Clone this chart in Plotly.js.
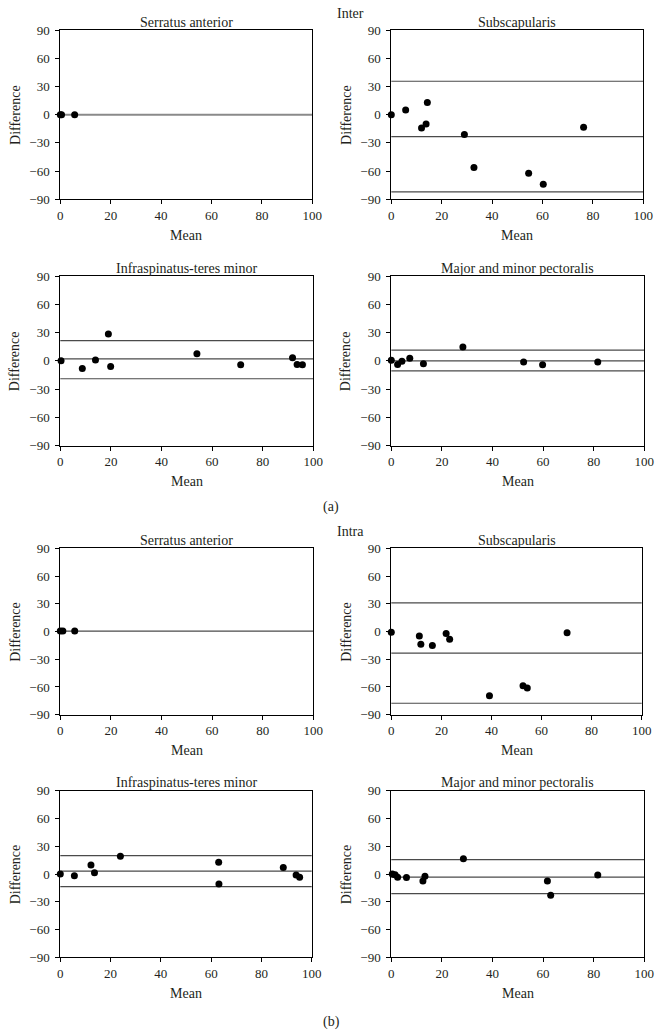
<!DOCTYPE html>
<html><head><meta charset="utf-8">
<script src="https://cdn.plot.ly/plotly-3.0.1.min.js"></script>
<style>html,body{margin:0;padding:0;background:#fff}#chart{width:662px;height:1034px}</style>
</head><body><div id="chart"></div>
<script>
// ---------- tick labels ----------
const xTickVals = [0, 20, 40, 60, 80, 100];
const yTickVals = [-90, -60, -30, 0, 30, 60, 90];

// ---------- (a) Inter ----------
const interSerratusMean = [0, 0.5, 5.7];
const interSerratusDiff = [0, 0, 0];
const interSerratusLines = [0];

const interSubscapMean = [0, 5.7, 14.3, 12.0, 13.8, 29.0, 32.8, 54.5, 60.3, 76.3];
const interSubscapDiff = [0, 5.0, 12.8, -14.2, -10.0, -21.0, -56.2, -62.2, -74.0, -13.4];
const interSubscapLines = [35.5, -23.4, -82.2];

const interInfraMean = [0.3, 8.7, 13.9, 19.0, 19.9, 54.0, 71.3, 91.8, 93.6, 95.7];
const interInfraDiff = [0, -8.0, 1.0, 28.5, -6.0, 7.5, -4.2, 3.2, -4.0, -4.2];
const interInfraLines = [21.5, 2.0, -19.0];

const interPectMean = [0, 2.5, 4.2, 7.3, 12.7, 28.3, 52.3, 59.8, 81.6];
const interPectDiff = [0.7, -3.9, -0.5, 2.8, -3.2, 14.8, -1.1, -4.2, -1.1];
const interPectLines = [11.3, 0, -10.6];

// ---------- (b) Intra ----------
const intraSerratusMean = [0, 1.0, 5.7];
const intraSerratusDiff = [0.5, 0.5, 0.5];
const intraSerratusLines = [0.5];

const intraSubscapMean = [0, 11.2, 11.8, 16.4, 21.9, 23.3, 39.2, 52.6, 54.3, 70.2];
const intraSubscapDiff = [-0.7, -5.0, -13.7, -15.1, -2.2, -8.3, -69.4, -58.6, -61.0, -1.4];
const intraSubscapLines = [31.0, -23.5, -77.6];

const intraInfraMean = [0, 5.6, 12.2, 13.6, 23.9, 63.0, 63.1, 88.7, 93.8, 95.2];
const intraInfraDiff = [0, -1.8, 9.7, 1.4, 19.1, 12.6, -10.8, 6.9, -1.2, -3.4];
const intraInfraLines = [19.9, 3.2, -13.7];

const intraPectMean = [0.4, 1.5, 2.5, 6.0, 12.5, 13.3, 28.5, 61.7, 63.0, 81.6];
const intraPectDiff = [0, -0.9, -3.6, -3.8, -7.6, -2.5, 16.4, -7.6, -23.0, -1.0];
const intraPectLines = [15.5, -3.3, -21.3];

const panelTitles = ['Serratus anterior', 'Subscapularis', 'Infraspinatus-teres minor', 'Major and minor pectoralis',
                     'Serratus anterior', 'Subscapularis', 'Infraspinatus-teres minor', 'Major and minor pectoralis'];
const xAxisTitle = 'Mean';
const yAxisTitle = 'Difference';

const panels = [
  {mean: interSerratusMean, diff: interSerratusDiff, lines: interSerratusLines},
  {mean: interSubscapMean, diff: interSubscapDiff, lines: interSubscapLines},
  {mean: interInfraMean, diff: interInfraDiff, lines: interInfraLines},
  {mean: interPectMean, diff: interPectDiff, lines: interPectLines},
  {mean: intraSerratusMean, diff: intraSerratusDiff, lines: intraSerratusLines},
  {mean: intraSubscapMean, diff: intraSubscapDiff, lines: intraSubscapLines},
  {mean: intraInfraMean, diff: intraInfraDiff, lines: intraInfraLines},
  {mean: intraPectMean, diff: intraPectDiff, lines: intraPectLines}
];

// ---------- layout geometry (pixels) ----------
const W = 662, H = 1034;
const px = x => x / W, py = y => 1 - y / H;
const boxes = [
  {x0: 60.3, x1: 312.3, y0: 30, y1: 199.3},
  {x0: 391.3, x1: 643.3, y0: 30, y1: 199.3},
  {x0: 60.3, x1: 313.3, y0: 276, y1: 445.7},
  {x0: 391.3, x1: 644.3, y0: 276, y1: 445.7},
  {x0: 60.3, x1: 313.3, y0: 548.3, y1: 714.7},
  {x0: 391.3, x1: 641.7, y0: 548.3, y1: 714.7},
  {x0: 60.3, x1: 311.7, y0: 790.7, y1: 957.3},
  {x0: 391.3, x1: 644.3, y0: 790.7, y1: 957.3}
];

const FONT = '"Liberation Serif", "Times New Roman", serif';
const TXT = '#231f20';
const TICK = 13, TITLE = 14;
const data = [], shapes = [], annotations = [];
const layout = {
  width: W, height: H, margin: {l: 0, r: 0, t: 0, b: 0},
  paper_bgcolor: '#fff', plot_bgcolor: '#fff', showlegend: false,
  font: {family: FONT, size: TICK, color: TXT}
};

panels.forEach((p, i) => {
  const n = i + 1, s = n === 1 ? '' : String(n);
  const b = boxes[i];
  const xr = 'x' + s, yr = 'y' + s;
  data.push({
    type: 'scatter', mode: 'markers', x: p.mean, y: p.diff, xaxis: xr, yaxis: yr,
    marker: {color: '#000', size: 7}, cliponaxis: false, hoverinfo: 'skip', showlegend: false
  });
  const common = {
    ticks: 'outside', ticklen: 4, tickwidth: 1, tickcolor: '#000',
    showline: true, mirror: true, linecolor: '#000', linewidth: 1,
    showgrid: false, zeroline: false, fixedrange: true,
    tickfont: {family: FONT, size: TICK, color: TXT}
  };
  layout['xaxis' + s] = Object.assign({}, common, {
    domain: [px(b.x0), px(b.x1)], anchor: yr, range: [0, 100], tickvals: xTickVals
  });
  layout['yaxis' + s] = Object.assign({}, common, {
    domain: [py(b.y1), py(b.y0)], anchor: xr, range: [-90, 90], tickvals: yTickVals,
    ticklabelstandoff: 3
  });
  p.lines.forEach(v => shapes.push({
    type: 'line', xref: xr + ' domain', x0: 0, x1: 1, yref: yr, y0: v, y1: v,
    line: {color: i === 0 ? '#8a8a8a' : '#4a4a4a', width: i === 0 ? 2 : 1.2}, layer: 'below'
  }));
  const cx = (b.x0 + b.x1) / 2;
  annotations.push({text: panelTitles[i], xref: 'paper', yref: 'paper', x: px(cx), y: py(b.y0 - 8),
    xanchor: 'center', yanchor: 'middle', showarrow: false, font: {family: FONT, size: TITLE, color: TXT}});
  annotations.push({text: xAxisTitle, xref: 'paper', yref: 'paper', x: px(cx), y: py(b.y1 + 36),
    xanchor: 'center', yanchor: 'middle', showarrow: false, font: {family: FONT, size: TITLE, color: TXT}});
  annotations.push({text: yAxisTitle, xref: 'paper', yref: 'paper', x: px(b.x0 - 45), y: py((b.y0 + b.y1) / 2),
    xanchor: 'center', yanchor: 'middle', textangle: -90, showarrow: false, font: {family: FONT, size: TITLE, color: TXT}});
});

const labels = [
  {text: 'Inter', x: 335, y: 13, xanchor: 'left'},
  {text: 'Intra', x: 335, y: 531, xanchor: 'left'},
  {text: '(a)', x: 331, y: 507, xanchor: 'center'},
  {text: '(b)', x: 331, y: 1022, xanchor: 'center'}
];
labels.forEach(l => annotations.push({text: l.text, xref: 'paper', yref: 'paper', x: px(l.x), y: py(l.y),
  xanchor: l.xanchor, yanchor: 'middle', showarrow: false, font: {family: FONT, size: TITLE, color: TXT}}));

layout.shapes = shapes;
layout.annotations = annotations;
Plotly.newPlot('chart', data, layout, {staticPlot: true, displayModeBar: false});
</script>
</body></html>
